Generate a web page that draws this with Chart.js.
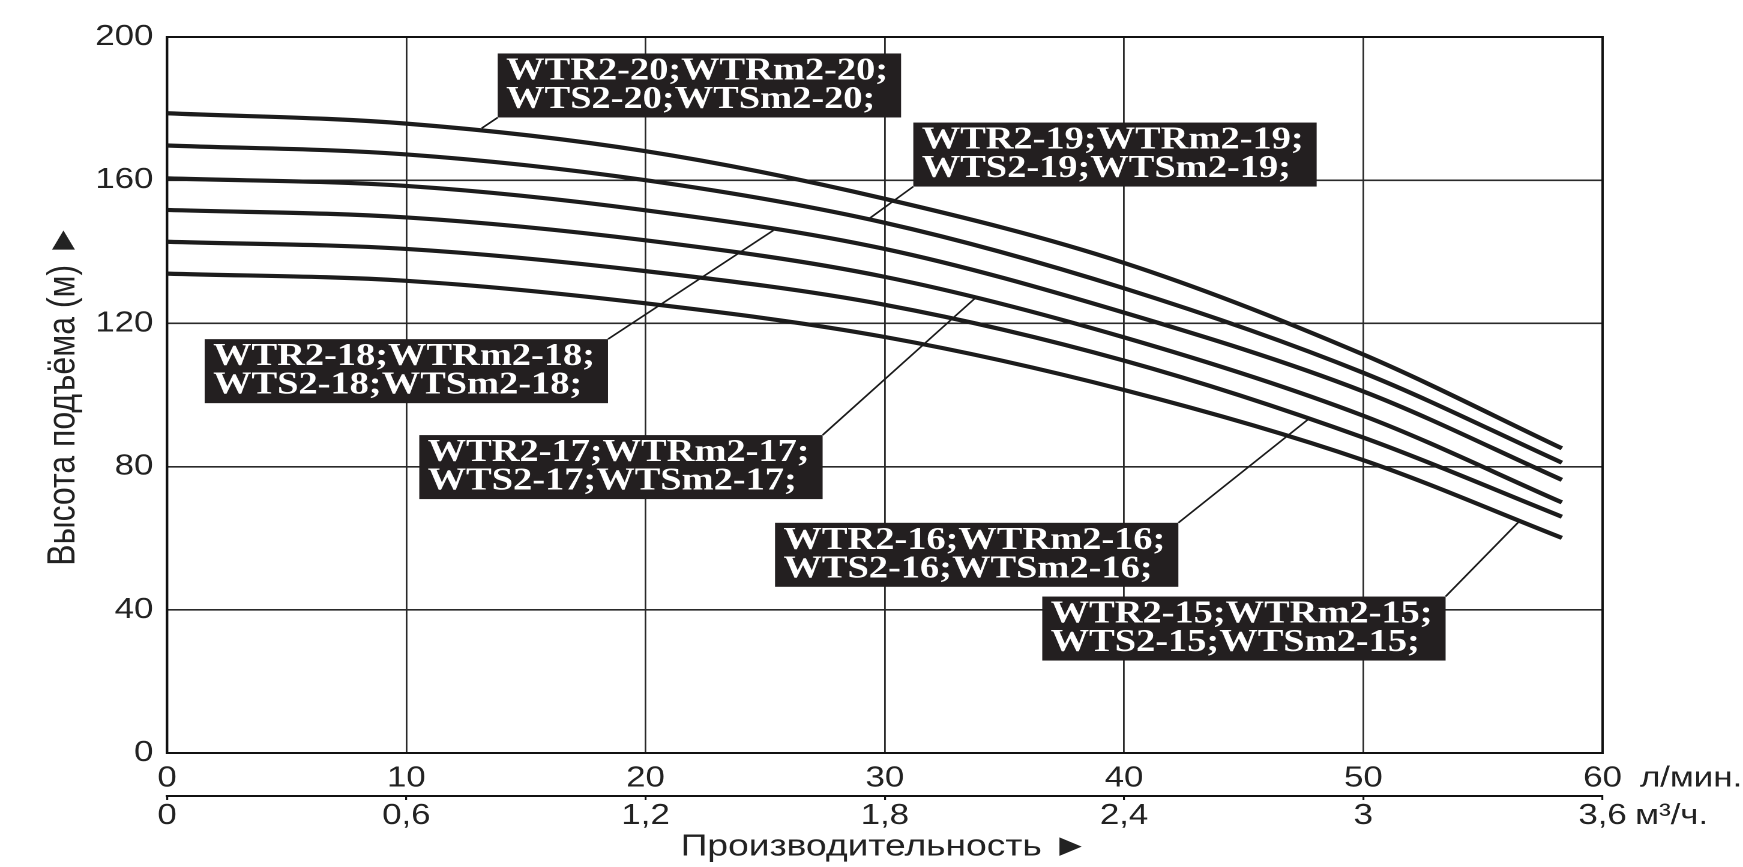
<!DOCTYPE html>
<html lang="ru">
<head>
<meta charset="utf-8">
<title>Напорные характеристики WTR2 / WTS2</title>
<script src="https://cdn.jsdelivr.net/npm/chart.js@4.4.1/dist/chart.umd.min.js"></script>
<style>
  html, body { margin: 0; padding: 0; background: #fff; overflow: hidden; }
  /* l'original est étiré horizontalement : on dessine plus étroit puis on étire */
  #cadre { width: 1452.5px; height: 867px; transform: scaleX(1.2); transform-origin: 0 0; }
</style>
</head>
<body>
<div id="cadre"><canvas id="courbes-pompes"></canvas></div>
<script>
// Débit des points (л/мин.)
const debit = [0, 10, 20, 30, 40, 50, 58.3];

// Hauteur de refoulement (м) pour chaque modèle
const hauteur20 = [178.7, 175.8, 168.1, 154.8, 136.9, 111.3, 85.1];
const hauteur19 = [169.7, 167.2, 160.0, 148.1, 129.8, 106.2, 81.1];
const hauteur18 = [160.5, 158.4, 151.6, 140.8, 123.0, 101.0, 76.3];
const hauteur17 = [151.7, 149.6, 143.2, 133.0, 116.1, 94.2, 70.0];
const hauteur16 = [142.8, 140.8, 134.6, 125.2, 109.6, 88.1, 66.0];
const hauteur15 = [133.9, 131.9, 125.6, 116.2, 101.4, 81.8, 60.1];

const modeles = ["20", "19", "18", "17", "16", "15"];
const hauteurs = [hauteur20, hauteur19, hauteur18, hauteur17, hauteur16, hauteur15];

// Graduations
const ticksDebit = [0, 10, 20, 30, 40, 50, 60];
const ticksM3h = [0, 0.6, 1.2, 1.8, 2.4, 3, 3.6];
const ticksHauteur = [0, 40, 80, 120, 160, 200];

// Étiquettes : coin haut-gauche de la boîte et extrémité du trait (unités du graphique)
const etiquettes = [
    { modele: "20", x: 13.82, y: 195.4, coin: "bg", fin: [13.15, 174.5] },
    { modele: "19", x: 31.19, y: 176.1, coin: "bg", fin: [29.31, 149.1] },
    { modele: "18", x: 1.57, y: 115.6, coin: "hd", fin: [25.34, 146.0] },
    { modele: "17", x: 10.54, y: 88.8, coin: "hd", fin: [33.8, 127.2] },
    { modele: "16", x: 25.41, y: 64.3, coin: "hd", fin: [47.75, 93.5] },
    { modele: "15", x: 36.58, y: 43.7, coin: "hd", fin: [56.5, 64.6] }
];
const LARGEUR_BOITE = 336;
const HAUTEUR_BOITE = 64;

const POLICE = "Liberation Sans";
const TAILLE_TICKS = 29;
const PAD_X = 8;

// Cadre du graphique (haut et droite compris)
const pluginCadre = {
    id: 'cadre',
    beforeDatasetsDraw(chart) {
        const {ctx, chartArea: a} = chart;
        ctx.save();
        ctx.strokeStyle = '#111';
        ctx.lineWidth = 2;
        ctx.strokeRect(a.left, a.top, a.right - a.left, a.bottom - a.top);
        ctx.restore();
    }
};

// Boîtes noires avec le nom des modèles et leur trait de rappel
const pluginEtiquettes = {
    id: 'etiquettes',
    afterDatasetsDraw(chart) {
        const {ctx} = chart;
        const x = chart.scales.x, y = chart.scales.y;
        ctx.save();
        for (let e of etiquettes) {
            let bx = x.getPixelForValue(e.x);
            let by = y.getPixelForValue(e.y);
            let cx = e.coin == "bg" ? bx : bx + LARGEUR_BOITE;
            let cy = e.coin == "bg" ? by + HAUTEUR_BOITE : by;
            ctx.strokeStyle = '#1a1a1a';
            ctx.lineWidth = 1.6;
            ctx.beginPath();
            ctx.moveTo(cx, cy);
            ctx.lineTo(x.getPixelForValue(e.fin[0]), y.getPixelForValue(e.fin[1]));
            ctx.stroke();
            ctx.fillStyle = '#231f20';
            ctx.fillRect(bx, by, LARGEUR_BOITE, HAUTEUR_BOITE);
            ctx.fillStyle = '#fff';
            ctx.font = 'bold 32px "Liberation Serif"';
            ctx.textAlign = 'left';
            ctx.textBaseline = 'alphabetic';
            ctx.fillText("WTR2-" + e.modele + ";WTRm2-" + e.modele + ";", bx + 7, by + 26);
            ctx.fillText("WTS2-" + e.modele + ";WTSm2-" + e.modele + ";", bx + 7, by + 54.5);
        }
        ctx.restore();
    }
};

// Unités à droite des deux échelles de débit
const pluginUnites = {
    id: 'unites',
    afterDraw(chart) {
        const {ctx} = chart;
        const x = chart.scales.x, x2 = chart.scales.x2;
        ctx.save();
        ctx.font = TAILLE_TICKS + 'px "' + POLICE + '"';
        ctx.fillStyle = '#222';
        ctx.textAlign = 'left';
        ctx.textBaseline = 'middle';
        let fin1 = x.getPixelForValue(60) + ctx.measureText("60").width / 2;
        ctx.fillText("л/мин.", fin1 + 15, x.top + PAD_X + TAILLE_TICKS * 0.6);
        let fin2 = x2.getPixelForValue(3.6) + ctx.measureText("3,6").width / 2;
        ctx.fillText("м³/ч.", fin2 + 7, x2.top + 4 + 1.5 + TAILLE_TICKS * 0.5);
        ctx.restore();
    }
};

function loadChart() {
    const datasets = [];
    for (let i = 0; i < modeles.length; i++) {
        datasets.push({
            label: "WTR2-" + modeles[i],
            data: debit.map((q, j) => ({x: q, y: hauteurs[i][j]})),
            borderColor: '#1c1c1c',
            borderWidth: 4.2,
            borderCapStyle: 'butt',
            pointRadius: 0,
            cubicInterpolationMode: 'monotone',
            fill: false
        });
    }
    const policeTicks = {family: POLICE, size: TAILLE_TICKS};
    const config = {
        type: 'line',
        data: {datasets: datasets},
        options: {
            responsive: true,
            maintainAspectRatio: false,
            animation: false,
            devicePixelRatio: 2,
            layout: {padding: {top: 37, right: 117.5, left: 0, bottom: 0}},
            plugins: {legend: {display: false}, tooltip: {enabled: false}},
            scales: {
                x: {
                    type: 'linear', position: 'bottom', min: 0, max: 60,
                    afterBuildTicks: s => { s.ticks = ticksDebit.map(v => ({value: v})); },
                    grid: {color: '#2a2a2a', lineWidth: 1.4, drawTicks: false},
                    border: {color: '#111', width: 2},
                    ticks: {font: policeTicks, color: '#222', padding: PAD_X, maxRotation: 0, autoSkip: false},
                    afterFit: s => { s.height = 43; }
                },
                x2: {
                    type: 'linear', position: 'bottom', weight: 1, min: 0, max: 3.6,
                    afterBuildTicks: s => { s.ticks = ticksM3h.map(v => ({value: v})); },
                    grid: {drawOnChartArea: false, drawTicks: true, tickLength: 4, color: '#111', lineWidth: 1.6},
                    border: {color: '#111', width: 2},
                    ticks: {
                        font: {family: POLICE, size: TAILLE_TICKS, lineHeight: 1}, color: '#222',
                        padding: 1.5, maxRotation: 0, autoSkip: false,
                        callback: v => String(v).replace('.', ',')
                    },
                    title: {
                        display: true, text: 'Производительность ►', color: '#222',
                        font: {family: POLICE, size: 31, lineHeight: 1},
                        padding: {top: 0, bottom: 4.5}
                    },
                    afterFit: s => { s.height = 71; }
                },
                y: {
                    type: 'linear', position: 'left', min: 0, max: 200,
                    afterBuildTicks: s => { s.ticks = ticksHauteur.map(v => ({value: v})); },
                    grid: {color: '#2a2a2a', lineWidth: 1.6, drawTicks: false},
                    border: {color: '#111', width: 2},
                    ticks: {font: policeTicks, color: '#222', padding: 11.4, autoSkip: false},
                    title: {
                        display: true, text: 'Высота подъёма (м) ►', color: '#222',
                        font: {family: POLICE, size: 32, lineHeight: 1},
                        padding: {top: 37, bottom: 0}
                    },
                    afterFit: s => { s.width = 139.2; }
                }
            }
        },
        plugins: [pluginCadre, pluginEtiquettes, pluginUnites]
    };
    new Chart(document.getElementById('courbes-pompes'), config);
}

loadChart();
</script>
</body>
</html>
